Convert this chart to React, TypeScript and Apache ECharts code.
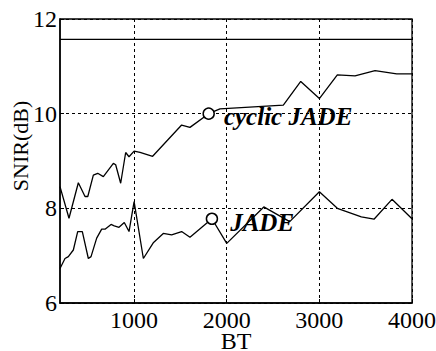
import React, { useEffect, useRef } from "react";
import * as echarts from "echarts";

const xTickValues = [1000, 2000, 3000, 4000];
const yTickValues = [6, 8, 10, 12];

const cyclicJade: [number, number][] = [
  [200, 8.46], [297, 7.79], [398, 8.54], [470, 8.25], [500, 8.25], [560, 8.7],
  [607, 8.74], [668, 8.67], [776, 8.95], [801, 8.92], [855, 8.53], [909, 9.18],
  [945, 9.09], [1000, 9.21], [1064, 9.18], [1200, 9.1], [1513, 9.76], [1603, 9.71],
  [1805, 10.0], [1927, 10.1], [2611, 10.18], [2799, 10.68], [3000, 10.32],
  [3194, 10.82], [3385, 10.8], [3601, 10.91], [3835, 10.84], [4000, 10.84],
];

const jade: [number, number][] = [
  [200, 6.73], [254, 6.94], [290, 6.98], [344, 7.12], [391, 7.51], [441, 7.51],
  [506, 6.94], [535, 6.98], [596, 7.37], [650, 7.56], [686, 7.56], [751, 7.66],
  [786, 7.63], [837, 7.6], [894, 7.7], [945, 7.51], [1000, 8.14], [1100, 6.94],
  [1210, 7.28], [1315, 7.47], [1405, 7.44], [1513, 7.51], [1603, 7.39],
  [1840, 7.78], [2000, 7.26], [2400, 8.03], [2680, 7.72], [3000, 8.35],
  [3194, 8.0], [3453, 7.82], [3590, 7.77], [3784, 8.19], [4000, 7.78],
];

const thresholdLine: [number, number][] = [[200, 11.57], [4000, 11.57]];

const cyclicMarker: [number, number][] = [[1805, 10.0]];
const jadeMarker: [number, number][] = [[1840, 7.78]];

const serif = "Liberation Serif";

export default function App() {
  const ref = useRef<HTMLDivElement>(null);
  useEffect(() => {
    if (!ref.current) return;
    const chart = echarts.init(ref.current, undefined, { renderer: "svg" });
    const dashed = { color: "#000", width: 1, type: [3, 3] as any };
    const markerLabel = {
      show: true,
      position: "right",
      color: "#000",
      fontFamily: serif,
      fontSize: 25,
      fontWeight: "bold",
      fontStyle: "italic",
    };
    chart.setOption({
      animation: false,
      backgroundColor: "#fff",
      textStyle: { fontFamily: serif, color: "#000" },
      grid: {
        left: 60,
        top: 19,
        right: 24,
        bottom: 48,
        show: false,
        containLabel: false,
        outerBoundsMode: "none",
      },
      xAxis: {
        type: "value",
        min: 200,
        max: 4000,
        name: "BT",
        nameLocation: "middle",
        nameGap: 26,
        nameMoveOverlap: false,
        nameTextStyle: { color: "#000", fontFamily: serif, fontSize: 24 },
        axisLine: { show: true, onZero: false, lineStyle: { color: "#000", width: 1.5 } },
        axisTick: { show: true, inside: true, length: 4, customValues: xTickValues, lineStyle: { color: "#000" } },
        axisLabel: {
          customValues: xTickValues,
          formatter: (v: number) => String(v),
          color: "#000",
          fontFamily: serif,
          fontSize: 24,
          margin: 5,
        },
        splitLine: { show: true, lineStyle: dashed },
      },
      yAxis: {
        type: "value",
        min: 6,
        max: 12,
        interval: 2,
        axisLine: { show: true, onZero: false, lineStyle: { color: "#000", width: 1.5 } },
        axisTick: { show: true, inside: true, length: 4, lineStyle: { color: "#000" } },
        axisLabel: { color: "#000", fontFamily: serif, fontSize: 24, margin: 3 },
        splitLine: { show: true, lineStyle: dashed },
      },
      graphic: [
        {
          type: "rect",
          shape: { x: 60, y: 19, width: 352, height: 284 },
          style: { fill: "none", stroke: "#000", lineWidth: 1.3 },
          silent: true,
          z: 10,
        },
        {
          type: "text",
          x: 20,
          y: 146,
          rotation: Math.PI / 2,
          style: {
            text: "SNIR(dB)",
            fill: "#000",
            fontFamily: serif,
            fontSize: 22,
            align: "center",
            verticalAlign: "middle",
          },
        },
      ],
      series: [
        {
          type: "line",
          data: thresholdLine,
          symbol: "none",
          lineStyle: { color: "#000", width: 1.3 },
        },
        {
          type: "line",
          data: cyclicJade,
          symbol: "none",
          lineStyle: { color: "#000", width: 1.3 },
        },
        {
          type: "line",
          data: jade,
          symbol: "none",
          lineStyle: { color: "#000", width: 1.3 },
        },
        {
          type: "scatter",
          data: cyclicMarker,
          symbol: "circle",
          symbolSize: 11,
          itemStyle: { color: "#fff", borderColor: "#000", borderWidth: 1.5, opacity: 1 },
          label: { ...markerLabel, distance: 9, offset: [0, 3], formatter: "cyclic JADE" },
          z: 5,
        },
        {
          type: "scatter",
          data: jadeMarker,
          symbol: "circle",
          symbolSize: 11,
          itemStyle: { color: "#fff", borderColor: "#000", borderWidth: 1.5, opacity: 1 },
          label: { ...markerLabel, distance: 12, offset: [0, 4], formatter: "JADE" },
          z: 5,
        },
      ],
    });
    return () => chart.dispose();
  }, []);
  return <div ref={ref} style={{ width: 436, height: 351, position: "absolute", left: 0, top: 0 }} />;
}
